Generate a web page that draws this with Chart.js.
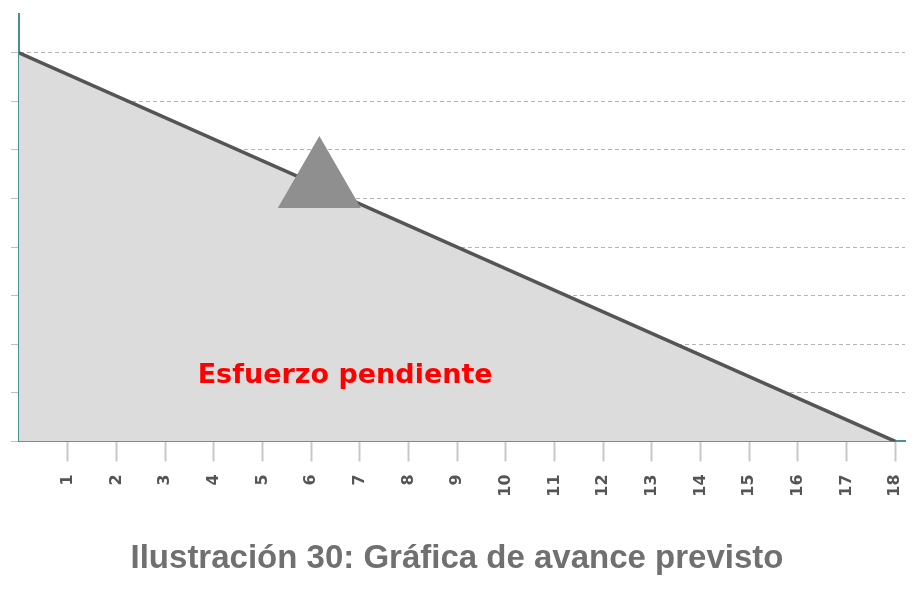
<!DOCTYPE html>
<html>
<head>
<meta charset="utf-8">
<script src="https://cdn.jsdelivr.net/npm/chart.js@4.4.1/dist/chart.umd.min.js"></script>
<style>
html,body{margin:0;padding:0;background:#fff;}
#wrap{width:914px;height:590px;}
</style>
</head>
<body>
<div id="wrap"><canvas id="c" width="914" height="590"></canvas></div>
<script>
// Data
const periods = [0, 18];
const remainingEffort = [8, 0];
const xTickValues = [1,2,3,4,5,6,7,8,9,10,11,12,13,14,15,16,17,18];
const yTickValues = [0,1,2,3,4,5,6,7,8];
const arrowMarker = [{x: 6.17, y: 5.3}];
const areaLabel = {text: 'Esfuerzo pendiente', x: 6.7, y: 1.2};
const chartTitle = 'Ilustración 30: Gráfica de avance previsto';

const textPlugin = {
  id: 'areaText',
  afterDatasetsDraw(chart) {
    const {ctx, scales} = chart;
    const px = scales.x.getPixelForValue(areaLabel.x);
    const py = scales.y.getPixelForValue(areaLabel.y);
    ctx.save();
    ctx.font = 'bold 27px "DejaVu Sans"';
    ctx.fillStyle = '#ff0000';
    ctx.textAlign = 'center';
    ctx.textBaseline = 'alphabetic';
    ctx.fillText(areaLabel.text, px, py);
    ctx.restore();
  }
};

new Chart(document.getElementById('c'), {
  type: 'scatter',
  data: {
    datasets: [
      {
        data: arrowMarker,
        pointStyle: 'triangle',
        pointRadius: 48,
        pointHoverRadius: 48,
        backgroundColor: '#8f8f8f',
        borderColor: '#8f8f8f',
        borderWidth: 0,
        showLine: false,
        clip: false,
        order: 0
      },
      {
        data: periods.map((p, i) => ({x: p, y: remainingEffort[i]})),
        showLine: true,
        borderColor: '#555555',
        borderWidth: 3.5,
        backgroundColor: '#dcdcdc',
        fill: 'origin',
        pointRadius: 0,
        tension: 0,
        order: 1
      }
    ]
  },
  options: {
    responsive: false,
    animation: false,
    events: [],
    layout: {autoPadding: false, padding: {top: 14, right: 9, left: 9, bottom: 0}},
    plugins: {
      legend: {display: false},
      tooltip: {enabled: false},
      title: {
        display: true,
        position: 'bottom',
        text: chartTitle,
        color: '#707070',
        font: {family: '"Liberation Sans", Arial, sans-serif', size: 33, weight: 'bold'},
        padding: {top: 8, bottom: 11}
      }
    },
    scales: {
      x: {
        type: 'linear',
        min: 0,
        max: 18.2,
        afterBuildTicks: axis => { axis.ticks = xTickValues.map(v => ({value: v})); },
        afterFit: axis => { axis.height = 90; axis.paddingLeft = 0; axis.paddingRight = 0; },
        grid: {
          drawOnChartArea: false,
          drawTicks: true,
          tickLength: 20,
          tickColor: '#c8c8c8',
          tickWidth: 2
        },
        border: {display: true, color: '#4a8f98', width: 2},
        ticks: {
          autoSkip: false,
          minRotation: 90,
          maxRotation: 90,
          padding: 13,
          color: '#555555',
          font: {family: '"DejaVu Sans", Verdana, sans-serif', size: 16, weight: 'bold'}
        }
      },
      y: {
        type: 'linear',
        min: 0,
        max: 8.8,
        afterBuildTicks: axis => { axis.ticks = yTickValues.map(v => ({value: v})); },
        afterFit: axis => { axis.width = 10; axis.paddingTop = 0; axis.paddingBottom = 0; },
        grid: {
          drawOnChartArea: true,
          drawTicks: true,
          tickLength: 8,
          color: ctx => ctx.tick && ctx.tick.value === 0 ? 'rgba(0,0,0,0)' : '#b4b4b4',
          tickColor: '#c0c0c0',
          lineWidth: 1
        },
        border: {display: true, color: '#4a8f98', width: 2, dash: [4, 3]},
        ticks: {display: false}
      }
    }
  },
  plugins: [textPlugin]
});
</script>
</body>
</html>
